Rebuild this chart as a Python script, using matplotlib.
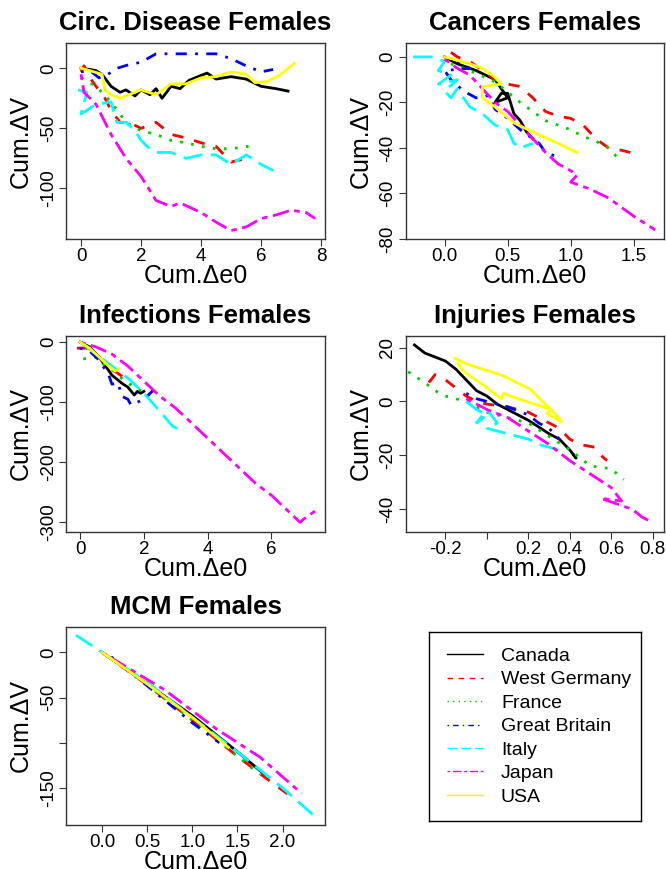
import matplotlib
matplotlib.use("Agg")
import matplotlib.pyplot as plt
from matplotlib.lines import Line2D

plt.rcParams['font.family'] = ['Liberation Sans', 'DejaVu Sans']
plt.rcParams['axes.unicode_minus'] = False

countries = ["Canada", "West Germany", "France", "Great Britain", "Italy", "Japan", "USA"]
colors = ["#000000", "#FF0000", "#00CD00", "#0000FF", "#00FFFF", "#FF00FF", "#FFFF00"]
dashes = [None, (4, 4), (1, 3), (1, 3, 4, 3), (7, 3), (2, 2, 6, 2), None]

# ---- Circ. Disease Females ----
circ_x = {
    "Canada": [0, 0.3, 0.5, 0.7, 1.0, 1.3, 1.5, 1.8, 2.0, 2.3, 2.5, 2.7, 3.0, 3.3, 3.6, 4.0, 4.2, 4.5, 5.0, 5.5, 6.0, 6.5, 6.9],
    "West Germany": [0, 0.1, 0.3, 0.5, 0.8, 1.0, 1.3, 1.6, 2.0, 2.5, 3.0, 3.5, 4.0, 4.5, 5.0, 5.5],
    "France": [0, 0.5, 1.0, 1.5, 2.0, 2.5, 3.0, 3.5, 4.0, 4.5, 5.0, 5.5, 5.7],
    "Great Britain": [0, 0.3, 0.6, 0.9, 1.2, 1.6, 2.0, 2.5, 3.0, 3.5, 4.0, 4.5, 5.0, 5.5, 6.0, 6.4],
    "Italy": [-0.1, 0.2, 0.0, 0.5, 1.0, 1.2, 1.5, 1.8, 2.0, 2.2, 2.5, 3.0, 3.5, 4.0, 4.5, 5.0, 5.5, 6.0, 6.4],
    "Japan": [0, 0.1, 0.5, 1.0, 1.5, 2.0, 2.5, 3.0, 3.3, 4.0, 4.5, 5.0, 5.5, 6.0, 6.5, 7.0, 7.5, 7.8],
    "USA": [0, 0.3, 0.7, 0.8, 1.0, 1.3, 1.6, 2.0, 2.5, 3.0, 3.5, 4.0, 4.5, 5.0, 5.5, 5.8, 6.2, 6.6, 7.0, 7.1],
}
circ_y = {
    "Canada": [0, -1, -2, -5, -15, -20, -18, -23, -18, -22, -17, -25, -15, -17, -10, -6, -4, -9, -7, -9, -15, -17, -19],
    "West Germany": [-3, 2, -8, -15, -25, -35, -45, -45, -50, -45, -55, -58, -62, -65, -78, -75],
    "France": [-8, -15, -28, -45, -52, -55, -60, -62, -65, -67, -67, -65, -66],
    "Great Britain": [-3, -2, -8, -5, 0, 3, 5, 12, 12, 12, 12, 12, 8, 2, -3, -1],
    "Italy": [-18, -20, -38, -30, -28, -45, -45, -52, -60, -65, -70, -70, -75, -72, -72, -80, -72, -80, -85],
    "Japan": [-5, -20, -30, -55, -75, -90, -110, -115, -112, -120, -128, -135, -132, -125, -122, -118, -120, -125],
    "USA": [0, -2, -5, -18, -22, -25, -22, -18, -22, -13, -13, -8, -7, -3, -5, -12, -11, -6, 2, 4],
}

# ---- Cancers Females ----
canc_x = {
    "Canada": [0, 0.1, 0.25, 0.4, 0.45, 0.5, 0.4, 0.45, 0.5, 0.55, 0.6, 0.65, 0.7],
    "West Germany": [0.05, 0.1, 0.2, 0.4, 0.5, 0.6, 0.7, 0.8, 0.9, 1.0, 1.1, 1.2, 1.3, 1.4, 1.55],
    "France": [0.05, 0.2, 0.4, 0.6, 0.8, 1.0, 1.1, 1.2, 1.3, 1.4],
    "Great Britain": [0.1, 0.2, 0.0, 0.05, 0.15, 0.25, 0.35, 0.4, 0.5, 0.6, 0.7, 0.75, 0.8, 0.9],
    "Italy": [-0.25, -0.1, 0.0, -0.05, 0.05, -0.05, 0.1, 0.0, 0.05, 0.1, 0.2, 0.3, 0.4, 0.5, 0.55, 0.6, 0.7],
    "Japan": [0, 0.1, 0.2, 0.35, 0.4, 0.5, 0.6, 0.7, 0.8, 0.9, 1.0, 1.05, 1.0, 1.15, 1.3, 1.5, 1.67],
    "USA": [0, 0.2, 0.3, 0.4, 0.45, 0.3, 0.3, 0.4, 0.55, 0.7, 0.9, 1.05],
}
canc_y = {
    "Canada": [0, -3, -6, -10, -14, -18, -20, -16, -16, -25, -28, -33, -36],
    "West Germany": [2, 0, -2, -10, -12, -13, -18, -24, -26, -27, -30, -36, -40, -41, -43],
    "France": [-3, -6, -11, -20, -28, -32, -35, -37, -40, -46],
    "Great Britain": [-2, -5, -6, -10, -15, -18, -17, -23, -27, -32, -36, -38, -42, -44],
    "Italy": [0, 0, -2, -6, -8, -12, -10, -15, -18, -14, -22, -25, -30, -32, -38, -40, -38],
    "Japan": [-1, -5, -8, -17, -20, -24, -30, -36, -42, -47, -50, -52, -55, -58, -62, -70, -76],
    "USA": [0, -3, -5, -9, -12, -13, -18, -22, -29, -33, -38, -42],
}

# ---- Infections Females ----
inf_x = {
    "Canada": [0, 0.3, 0.6, 0.8, 1.0, 1.3, 1.5, 1.7, 1.8, 1.9, 2.0],
    "West Germany": [-0.1, 0.2, 0.5, 0.8, 1.0, 1.4, 1.6],
    "France": [0.1, 0.5, 0.8, 1.1, 1.4, 1.8, 2.2],
    "Great Britain": [0, 0.3, 0.6, 0.9, 1.0, 1.2, 1.3, 1.5, 1.6, 1.8, 2.0, 2.2, 2.3],
    "Italy": [0, 0.5, 1.0, 1.5, 2.0, 2.5, 2.9, 3.1],
    "Japan": [0, 0.5, 1.0, 1.5, 2.0, 2.5, 3.0, 3.5, 4.0, 4.5, 5.0, 5.5, 6.0, 6.5, 6.9, 7.0, 7.4],
    "USA": [0, 0.3, 0.6, 0.9, 1.1, 1.2],
}
inf_y = {
    "Canada": [0, -8, -25, -40, -55, -68, -75, -88, -82, -85, -82],
    "West Germany": [-10, -10, -20, -35, -45, -60, -70],
    "France": [-28, -25, -40, -50, -65, -78, -88],
    "Great Britain": [-10, -15, -30, -55, -70, -68, -90, -95, -105, -100, -95, -85, -80],
    "Italy": [0, -20, -40, -60, -85, -115, -140, -145],
    "Japan": [0, -8, -20, -40, -65, -90, -110, -135, -160, -185, -210, -235, -255, -280, -300, -295, -280],
    "USA": [0, -10, -25, -40, -48, -45],
}

# ---- Injuries Females ----
inj_x = {
    "Canada": [-0.35, -0.3, -0.2, -0.15, -0.1, -0.05, 0.0, 0.05, 0.1, 0.2, 0.3, 0.35, 0.4, 0.43, 0.42],
    "West Germany": [-0.28, -0.25, -0.2, -0.15, -0.1, -0.05, 0.0, 0.1, 0.2, 0.3, 0.35, 0.4, 0.45, 0.52, 0.55, 0.58],
    "France": [-0.38, -0.3, -0.25, -0.2, -0.1, 0.0, 0.1, 0.2, 0.3, 0.4, 0.5, 0.6, 0.66],
    "Great Britain": [-0.1, -0.05, 0.0, 0.1, 0.2, 0.25, 0.3, 0.35],
    "Italy": [-0.1, -0.05, 0.0, -0.05, 0.0, 0.05, 0.0, 0.1, 0.2, 0.25, 0.3, 0.38],
    "Japan": [-0.1, -0.05, 0.0, 0.1, 0.2, 0.3, 0.4, 0.5, 0.6, 0.65, 0.55, 0.7, 0.75, 0.8],
    "USA": [-0.155, -0.1, 0.02, 0.08, 0.21, 0.34, 0.36, 0.29, 0.31, 0.15, 0.08, 0.07, -0.015, -0.11, -0.14],
}
inj_y = {
    "Canada": [21, 18, 15, 12, 8, 4, 2, -1, -3, -7, -12, -14, -18, -21, -20],
    "West Germany": [7, 10, 8, 5, 2, 0, -1, -2, -4, -8, -10, -14, -16, -17, -20, -22],
    "France": [11, 7, 4, 2, 0, -4, -6, -8, -13, -18, -24, -25, -29],
    "Great Britain": [3, 1, 0, -2, -5, -8, -10, -14],
    "Italy": [0, -3, -5, -8, -3, -8, -10, -12, -14, -16, -17, -19],
    "Japan": [1, -1, -3, -6, -11, -16, -22, -27, -32, -37, -36, -40, -43, -45],
    "USA": [16, 14, 11, 9.5, 4.5, -5.5, -7.5, -4.5, -3, 1, 3, 1, 6, 11, 14],
}

# ---- MCM Females ----
mcm_x = {
    "Canada": [0, 0.5, 1.0, 1.5, 1.8],
    "West Germany": [0, 0.5, 1.0, 1.5, 1.8, 2.1],
    "France": [0.1, 0.5, 1.0, 1.5, 1.75],
    "Great Britain": [0.1, 0.5, 1.0, 1.3],
    "Italy": [-0.29, 0.0, 0.5, 1.0, 1.5, 2.0, 2.34],
    "Japan": [0, 0.7, 1.27, 1.75, 2.21],
    "USA": [0, 0.5, 1.0, 1.4],
}
mcm_y = {
    "Canada": [0, -35, -70, -110, -135],
    "West Germany": [0, -36, -75, -115, -138, -160],
    "France": [-5, -36, -75, -115, -135],
    "Great Britain": [-5, -37, -78, -100],
    "Italy": [19, 0, -33, -72, -110, -150, -180],
    "Japan": [0, -42, -85, -116, -156],
    "USA": [0, -35, -72, -105],
}

titles = ["Circ. Disease Females", "Cancers Females", "Infections Females",
          "Injuries Females", "MCM Females"]
xticks = [[0, 2, 4, 6, 8], [0.0, 0.5, 1.0, 1.5], [0, 2, 4, 6],
          [-0.2, 0.0, 0.2, 0.4, 0.6, 0.8], [0.0, 0.5, 1.0, 1.5, 2.0]]
xticklabels = [["0", "2", "4", "6", "8"], ["0.0", "0.5", "1.0", "1.5"], ["0", "2", "4", "6"],
               ["-0.2", "", "0.2", "0.4", "0.6", "0.8"], ["0.0", "0.5", "1.0", "1.5", "2.0"]]
yticks = [[0, -50, -100], [0, -20, -40, -60, -80], [0, -100, -200, -300],
          [20, 0, -20, -40], [0, -50, -100, -150]]
yticklabels = [["0", "-50", "-100"], ["0", "-20", "-40", "-60", "-80"],
               ["0", "-100", "-200", "-300"], ["20", "0", "-20", "-40"],
               ["0", "-50", "", "-150"]]
xlims = [(-0.5, 8.13), (-0.31, 1.74), (-0.44, 7.68), (-0.393, 0.855), (-0.40, 2.47)]
ylims = [(-142, 21), (-80, 6.1), (-316, 11), (-48.5, 24.5), (-191, 28.4)]
data = [(circ_x, circ_y), (canc_x, canc_y), (inf_x, inf_y), (inj_x, inj_y), (mcm_x, mcm_y)]

W, H = 666, 869
fig = plt.figure(figsize=(W / 100, H / 100), dpi=100)

boxes = [(66, 43, 325, 239), (405.5, 43, 664, 239), (66, 335.5, 325, 532),
         (405.5, 335.5, 664, 532), (66, 626.7, 325, 825)]

for i, (l, t, r, b) in enumerate(boxes):
    ax = fig.add_axes([l / W, 1 - b / H, (r - l) / W, (b - t) / H])
    dx, dy = data[i]
    for c, col, d in zip(countries, colors, dashes):
        ln, = ax.plot(dx[c], dy[c], color=col, lw=2.0)
        if d is not None:
            ln.set_dashes(d)
    ax.set_xlim(*xlims[i])
    ax.set_ylim(*ylims[i])
    ax.set_xticks(xticks[i])
    ax.set_xticklabels(xticklabels[i])
    ax.set_yticks(yticks[i])
    ax.set_yticklabels(yticklabels[i], rotation=90, va='center')
    ax.tick_params(direction='out', length=5, width=0.8, labelsize=13.5, pad=1.5, color='#333333')
    for s in ax.spines.values():
        s.set_linewidth(1.0)
        s.set_color('#333333')
    ax.set_title(titles[i], fontsize=18.5, fontweight='bold', pad=9)
    ax.set_xlabel("Cum.\u0394e0", fontsize=18, labelpad=-0.5)
    ax.set_ylabel("Cum.\u0394V", fontsize=18)
    ax.yaxis.set_label_coords(-0.127, 0.5)

# legend panel
lax = fig.add_axes([429 / W, 1 - 821 / H, (641 - 429) / W, (821 - 632) / H])
lax.set_xticks([])
lax.set_yticks([])
for s in lax.spines.values():
    s.set_linewidth(1.0)
    s.set_color('#000000')
handles = []
for c, col, d in zip(countries, colors, dashes):
    h = Line2D([], [], color=col, lw=1.0)
    if d is not None:
        h.set_dashes(d)
    handles.append(h)
lax.legend(handles, countries, loc='center left', bbox_to_anchor=(0.0, 0.5), frameon=False,
           fontsize=14, handlelength=1.9, handletextpad=0.9, labelspacing=0.3)

fig.savefig("out.png", dpi=100)
